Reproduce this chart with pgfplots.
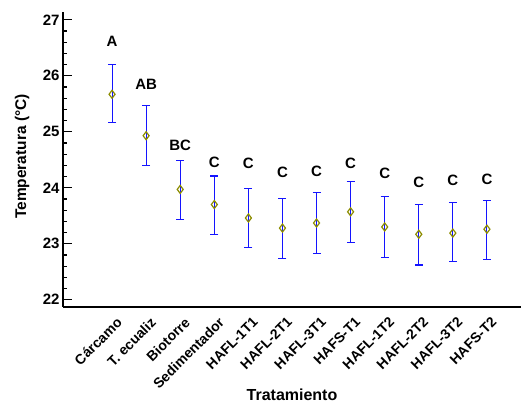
\documentclass[border=0pt]{standalone}
\usepackage{fontspec}
\setmainfont{Liberation Sans}
\usepackage{pgfplots}
\pgfplotsset{compat=1.18}
\usepackage{pgfplotstable}
\definecolor{meanol}{RGB}{140,140,0}
\definecolor{barblue}{RGB}{20,20,255}

% x, media, error superior, error inferior
\pgfplotstableread{
x  y     ep    em
0  25.67 0.54  0.51
1  24.93 0.54  0.54
2  23.97 0.51  0.54
3  23.70 0.51  0.53
4  23.46 0.53  0.52
5  23.28 0.53  0.54
6  23.37 0.54  0.54
7  23.57 0.54  0.54
8  23.30 0.54  0.54
9  23.17 0.53  0.55
10 23.19 0.54  0.51
11 23.26 0.51  0.54
}\medias

\pgfplotstableread{
x  y     lab
0  26.61 A
1  25.84 AB
2  24.75 BC
3  24.45 C
4  24.43 C
5  24.27 C
6  24.30 C
7  24.43 C
8  24.26 C
9  24.10 C
10 24.13 C
11 24.15 C
}\letras

\begin{document}
\begin{tikzpicture}
\begin{axis}[
    scale only axis,
    width=458pt, height=295pt,
    xmin=-1.44, xmax=12.0,
    ymin=21.87, ymax=27.14,
    axis x line*=bottom, axis y line*=left,
    axis line style={line width=1.4pt, -},
    xtick={0,...,11},
    xticklabels={Cárcamo, T. ecualiz, Biotorre, Sedimentador, HAFL-1T1, HAFL-2T1, HAFL-3T1, HAFS-T1, HAFL-1T2, HAFL-2T2, HAFL-3T2, HAFS-T2},
    x tick style={draw=none},
    xticklabel style={rotate=45, anchor=north east, font=\bfseries\fontsize{14}{14}\selectfont, inner sep=0pt, xshift=-4pt, yshift=-9pt},
    ytick={22,...,27},
    minor y tick num=4,
    tick align=inside,
    major tick length=9pt, minor tick length=4.5pt,
    y tick style={line width=1.2pt, black},
    yticklabel style={font=\bfseries\fontsize{15}{15}\selectfont},
    /pgf/number format/assume math mode=true,
    xlabel={Tratamiento},
    ylabel={Temperatura (°C)},
    xlabel style={at={(rel axis cs:0.5,-0.298)}, anchor=center, font=\bfseries\fontsize{16}{16}\selectfont},
    ylabel style={at={(rel axis cs:-0.0895,0.51)}, anchor=center, font=\bfseries\fontsize{15.5}{15.5}\selectfont},
    clip=false,
]
\addplot[
    only marks, mark=diamond, mark size=4pt,
    mark options={draw=meanol, fill=white, line width=1.2pt},
    error bars/.cd, y dir=both, y explicit,
    error bar style={barblue, line width=1.1pt},
    error mark options={rotate=90, barblue, mark size=4pt, line width=1.1pt},
] table[x=x, y=y, y error plus=ep, y error minus=em] {\medias};
\addplot[
    only marks, mark=none, draw=none,
    nodes near coords, point meta=explicit symbolic,
    nodes near coords align=center,
    every node near coord/.append style={font=\bfseries\fontsize{15}{15}\selectfont, anchor=center},
] table[x=x, y=y, meta=lab] {\letras};
\end{axis}
\pgfresetboundingbox
\path[use as bounding box] (-63pt,-97pt) rectangle (462pt,307pt);
\end{tikzpicture}
\end{document}
